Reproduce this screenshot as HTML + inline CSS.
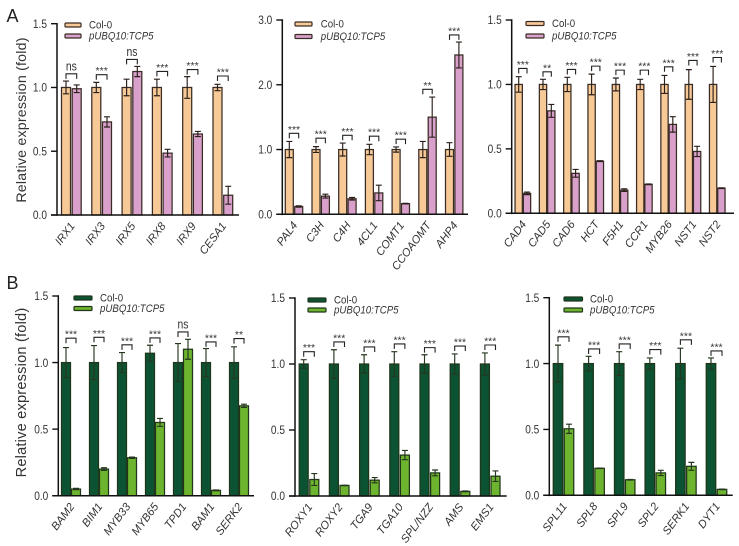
<!DOCTYPE html>
<html>
<head>
<meta charset="utf-8">
<style>
html,body{margin:0;padding:0;background:#fff;width:739px;height:546px;overflow:hidden}
svg{display:block;font-family:"Liberation Sans",sans-serif}
</style>
</head>
<body>
<svg id="figure" width="739" height="546" viewBox="0 0 739 546" xmlns="http://www.w3.org/2000/svg">
  <text x="6.5" y="22" font-size="18" fill="#222">A</text>
  <text x="6.5" y="289" font-size="18" fill="#222">B</text>
  <text transform="translate(26,120) rotate(-90)" text-anchor="middle" font-size="14.2" letter-spacing="0.2" fill="#333">Relative expression (fold)</text>
  <text transform="translate(26,392.5) rotate(-90)" text-anchor="middle" font-size="14.6" letter-spacing="0.2" fill="#333">Relative expression (fold)</text>
</svg>
<script>
const seriesNames = ['Col-0', 'pUBQ10:TCP5'];

const a1Genes = ['IRX1','IRX3','IRX5','IRX8','IRX9','CESA1'];
const a1Control = [1,1,1,1,1,1];
const a1ControlErr = [0.05,0.04,0.065,0.065,0.085,0.025];
const a1Treated = [0.99,0.73,1.125,0.485,0.635,0.155];
const a1TreatedErr = [0.03,0.04,0.04,0.03,0.02,0.07];
const a1SigLabels = ['ns','***','ns','***','***','***'];
const a1SigLevels = [1.107,1.10,1.22,1.126,1.14,1.09];
const a1Ticks = ['0.0','0.5','1.0','1.5'];

const a2Genes = ['PAL4','C3H','C4H','4CL1','COMT1','CCOAOMT','AHP4'];
const a2Control = [1,1,1,1,1,1,1];
const a2ControlErr = [0.125,0.045,0.1,0.08,0.04,0.125,0.105];
const a2Treated = [0.12,0.28,0.24,0.33,0.165,1.5,2.46];
const a2TreatedErr = [0.01,0.03,0.02,0.12,0.005,0.31,0.2];
const a2SigLabels = ['***','***','***','***','***','**','***'];
const a2SigLevels = [1.25,1.175,1.22,1.206,1.16,1.93,2.77];
const a2Ticks = ['0.0','1.0','2.0','3.0'];

const a3Genes = ['CAD4','CAD5','CAD6','HCT','F5H1','CCR1','MYB26','NST1','NST2'];
const a3Control = [1,1,1,1,1,1,1,1,1];
const a3ControlErr = [0.06,0.04,0.055,0.08,0.05,0.04,0.07,0.115,0.14];
const a3Treated = [0.155,0.795,0.31,0.405,0.18,0.225,0.69,0.48,0.195];
const a3TreatedErr = [0.01,0.05,0.03,0.003,0.01,0.003,0.06,0.04,0.003];
const a3SigLabels = ['***','**','***','***','***','***','***','***','***'];
const a3SigLevels = [1.124,1.098,1.116,1.142,1.111,1.111,1.137,1.186,1.209];
const a3Ticks = ['0.0','0.5','1.0','1.5'];

const b1Genes = ['BAM2','BIM1','MYB33','MYB65','TPD1','BAM1','SERK2'];
const b1Control = [1,1,1,1.07,1,1,1];
const b1ControlErr = [0.113,0.128,0.075,0.06,0.143,0.105,0.118];
const b1Treated = [0.05,0.2,0.285,0.55,1.1,0.04,0.675];
const b1TreatedErr = [0.005,0.01,0.005,0.03,0.075,0.003,0.012];
const b1SigLabels = ['***','***','***','***','ns','***','**'];
const b1SigLevels = [1.183,1.19,1.133,1.185,1.23,1.155,1.18];
const b1Ticks = ['0.0','0.5','1.0','1.5'];

const b2Genes = ['ROXY1','ROXY2','TGA9','TGA10','SPL/NZZ','AMS','EMS1'];
const b2Control = [1,1,1,1,1,1,1];
const b2ControlErr = [0.033,0.108,0.07,0.093,0.07,0.076,0.084];
const b2Treated = [0.125,0.08,0.12,0.31,0.175,0.035,0.15];
const b2TreatedErr = [0.045,0.002,0.02,0.035,0.022,0.003,0.04];
const b2SigLabels = ['***','***','***','***','***','***','***'];
const b2SigLevels = [1.093,1.167,1.129,1.152,1.124,1.136,1.144];
const b2Ticks = ['0.0','0.5','1.0','1.5'];

const b3Genes = ['SPL11','SPL8','SPL9','SPL2','SERK1','DYT1'];
const b3Control = [1,1,1,1,1,1];
const b3ControlErr = [0.14,0.055,0.09,0.043,0.117,0.043];
const b3Treated = [0.505,0.205,0.118,0.17,0.22,0.045];
const b3TreatedErr = [0.035,0.002,0.002,0.02,0.03,0.002];
const b3SigLabels = ['***','***','***','***','***','***'];
const b3SigLevels = [1.203,1.111,1.149,1.106,1.18,1.096];
const b3Ticks = ['0.0','0.5','1.0','1.5'];

const NS = 'http://www.w3.org/2000/svg';
const figure = document.getElementById('figure');
const orange = {c:'#f6c996', t:'#d8a0ca', edge:'#3a2c24', err:'#2a1f1a'};
const green = {c:'#0b5332', t:'#6db52e', edge:'#20361a', err:'#26361f'};

function make(parent, tag, attrs){
  const el = document.createElementNS(NS, tag);
  for (const k in attrs) el.setAttribute(k, attrs[k]);
  parent.appendChild(el);
  return el;
}

function drawPanel(id, d, g){
  const root = make(figure, 'g', {});
  
  
  const yMax = parseFloat(d.ticks[d.ticks.length - 1]);
  const yScale = v => g.y0 - (v / yMax) * (g.y0 - g.yTop);
  const xControl = i => g.x1 + i * g.step;
  const xTreated = i => g.x1 + g.gap + i * g.step;

  d.genes.forEach((gene, i) => {
    [[d.control, d.controlErr, xControl, g.pal.c, 'control'], [d.treated, d.treatedErr, xTreated, g.pal.t, 'treated']].forEach(s => {
      const v = s[0][i], e = s[1][i], cx = s[2](i);
      const bar = make(root, 'rect', {x: cx - g.w / 2, y: yScale(v), width: g.w, height: g.y0 - yScale(v), fill: s[3], stroke: g.pal.edge, 'stroke-width': 1.25});
      
      
      const err = make(root, 'path', {d: 'M' + (cx - 3) + ' ' + yScale(v + e) + 'H' + (cx + 3) + 'M' + cx + ' ' + yScale(v + e) + 'V' + yScale(v - e) + 'M' + (cx - 3) + ' ' + yScale(v - e) + 'H' + (cx + 3), fill: 'none', stroke: g.pal.err, 'stroke-width': 1.15});
      
      
    });
    const by = yScale(d.sigLevels[i]);
    const bracket = make(root, 'path', {d: 'M' + xControl(i) + ' ' + (by + 5) + 'V' + by + 'H' + xTreated(i) + 'V' + (by + 5), fill: 'none', stroke: '#222', 'stroke-width': 1.1});
    
    
    const isNs = d.sigLabels[i] === 'ns';
    const mid = (xControl(i) + xTreated(i)) / 2;
    const sig = make(root, 'text', {transform: 'translate(' + mid + ',' + (by - (isNs ? 3.2 : 0.5)) + ') scale(' + (isNs ? 0.8 : 1) + ',1)', 'text-anchor': 'middle', 'font-size': isNs ? 13 : 10.5, fill: '#333'});
    sig.textContent = d.sigLabels[i];
    
    
    const lab = make(root, 'text', {transform: 'translate(' + (mid + 4) + ',' + (g.y0 + 11) + ') rotate(-53)', 'text-anchor': 'end', 'font-size': 11.2, 'font-style': 'italic', fill: '#333'});
    lab.textContent = gene;
    
    
  });

  const axisY = make(root, 'line', {x1: g.ax, x2: g.ax, y1: g.yTop - 0.7, y2: g.y0 + 0.8, stroke: '#111', 'stroke-width': 1.5});
  
  
  const axisX = make(root, 'line', {x1: g.ax - 6, x2: g.xEnd, y1: g.y0, y2: g.y0, stroke: '#111', 'stroke-width': 1.5});
  
  

  d.ticks.forEach(t => {
    const ty = yScale(parseFloat(t));
    const tick = make(root, 'line', {x1: g.ax - 6, x2: g.ax, y1: ty, y2: ty, stroke: '#111', 'stroke-width': 1.4});
    
    
    const label = make(root, 'text', {transform: 'translate(' + (g.ax - 10) + ',' + (ty + 4.2) + ') scale(0.88,1)', 'text-anchor': 'end', 'font-size': 11.5, fill: '#333'});
    label.textContent = t;
    
    
  });

  seriesNames.forEach((name, i) => {
    const ly = g.legY[i];
    const sw = make(root, 'rect', {x: g.legX, y: ly - 2, width: g.legW, height: 4, rx: 1, fill: i === 0 ? g.pal.c : g.pal.t, stroke: g.pal.edge, 'stroke-width': 1.2});
    
    
    const tx = make(root, 'text', {transform: 'translate(' + g.legText + ',' + (ly + 3.6) + ') scale(0.88,1)', 'font-size': 11, 'font-style': i === 0 ? 'normal' : 'italic', fill: '#333'});
    tx.textContent = name;
    
    
  });
}

drawPanel('a1', {genes:a1Genes, control:a1Control, controlErr:a1ControlErr, treated:a1Treated, treatedErr:a1TreatedErr, sigLabels:a1SigLabels, sigLevels:a1SigLevels, ticks:a1Ticks},
  {pal:orange, ax:57, xEnd:239, y0:215, yTop:23.7, x1:66, gap:10.7, step:30.3, w:9, legX:65, legW:16, legY:[25,36], legText:89});
drawPanel('a2', {genes:a2Genes, control:a2Control, controlErr:a2ControlErr, treated:a2Treated, treatedErr:a2TreatedErr, sigLabels:a2SigLabels, sigLevels:a2SigLevels, ticks:a2Ticks},
  {pal:orange, ax:282.3, xEnd:468, y0:214.3, yTop:20, x1:289.3, gap:9.4, step:26.7, w:8, legX:295, legW:17, legY:[24,36.5], legText:320.7});
drawPanel('a3', {genes:a3Genes, control:a3Control, controlErr:a3ControlErr, treated:a3Treated, treatedErr:a3TreatedErr, sigLabels:a3SigLabels, sigLevels:a3SigLevels, ticks:a3Ticks},
  {pal:orange, ax:511.7, xEnd:734, y0:213.3, yTop:20, x1:518.7, gap:8.3, step:24.3, w:7.3, legX:526, legW:18, legY:[23.5,36], legText:552});
drawPanel('b1', {genes:b1Genes, control:b1Control, controlErr:b1ControlErr, treated:b1Treated, treatedErr:b1TreatedErr, sigLabels:b1SigLabels, sigLevels:b1SigLevels, ticks:b1Ticks},
  {pal:green, ax:58.3, xEnd:254, y0:495.7, yTop:296, x1:66, gap:10, step:28, w:9, legX:74, legW:18, legY:[298,308.5], legText:100});
drawPanel('b2', {genes:b2Genes, control:b2Control, controlErr:b2ControlErr, treated:b2Treated, treatedErr:b2TreatedErr, sigLabels:b2SigLabels, sigLevels:b2SigLevels, ticks:b2Ticks},
  {pal:green, ax:295, xEnd:506.7, y0:496, yTop:298, x1:303.7, gap:10.6, step:30.2, w:9, legX:308, legW:18, legY:[300,310], legText:334});
drawPanel('b3', {genes:b3Genes, control:b3Control, controlErr:b3ControlErr, treated:b3Treated, treatedErr:b3TreatedErr, sigLabels:b3SigLabels, sigLevels:b3SigLevels, ticks:b3Ticks},
  {pal:green, ax:549.3, xEnd:732.7, y0:495.3, yTop:297.7, x1:558, gap:11, step:30.6, w:9.5, legX:564, legW:18.5, legY:[299,310], legText:590});
</script>
</body>
</html>
